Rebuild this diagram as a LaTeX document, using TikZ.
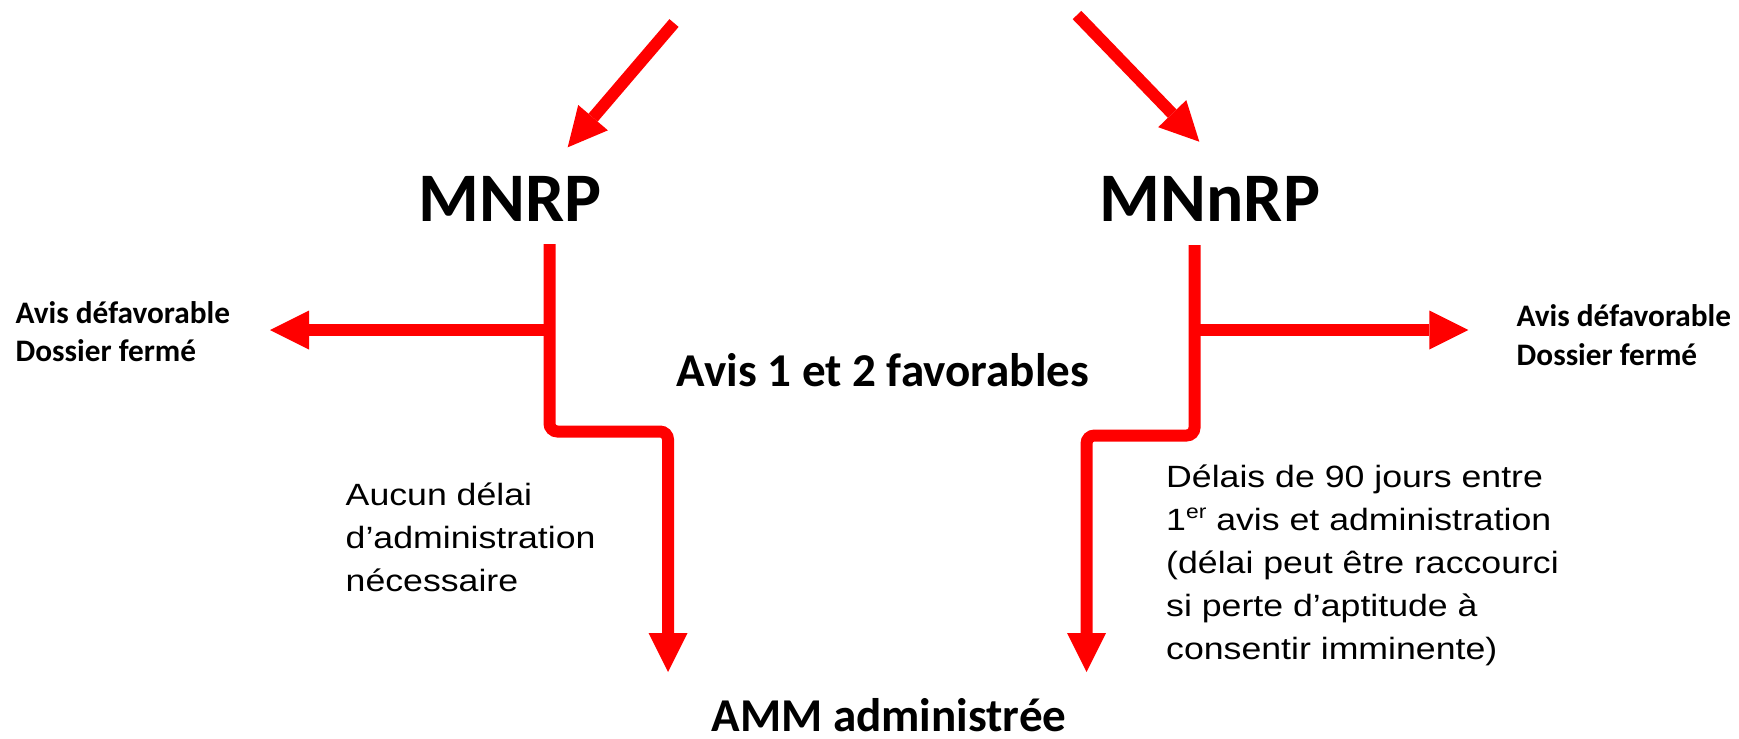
\documentclass[tikz,border=0pt]{standalone}
\usepackage{fontspec}
\usepackage{xcolor}
\usepackage{tikz}
\usetikzlibrary{arrows.meta}

\newfontfamily\calib{Carlito}
\newfontfamily\plain[FakeStretch=1.16]{Liberation Sans}
\newcommand{\ordsup}[1]{\raisebox{0.75ex}{\fontsize{5.6pt}{6pt}\selectfont #1}}

\begin{document}
\begin{tikzpicture}[
  title/.style={font=\calib\bfseries\fontsize{19.8pt}{24pt}\selectfont, inner sep=0pt, anchor=base},
  head/.style={font=\calib\bfseries\fontsize{13.4pt}{16pt}\selectfont, inner sep=0pt, anchor=base},
  verdict/.style={font=\calib\bfseries\fontsize{8.9pt}{10.9pt}\selectfont, inner sep=0pt,
                  align=left, anchor=base west},
  note/.style={font=\plain\fontsize{8.75pt}{12.23pt}\selectfont, inner sep=0pt,
               align=left, anchor=base west},
  arr/.style={-{Triangle[length=3.9mm, width=3.9mm, line width=0pt]}, line width=1.2mm, red},
  branch/.style={arr, rounded corners=0.8mm}
]
  \useasboundingbox (0,0) rectangle (17.39,-7.38);

  % Two procedures
  \node[title] (mnrp) at (5.10,-2.21) {MNRP};
  \node[title] (mnnrp) at (12.10,-2.21) {MNnRP};

  % Incoming arrows
  \coordinate (srcL) at (6.74,-0.23);
  \coordinate (inL) at (5.677,-1.473);
  \coordinate (srcR) at (10.77,-0.15);
  \coordinate (inR) at (11.993,-1.417);
  \draw[arr] (srcL) -- (inL);
  \draw[arr] (srcR) -- (inR);

  % Outcomes (multi-line nodes sit on their last line)
  \node[verdict] (refusL) at (0.15,-3.617) {Avis défavorable\\Dossier fermé};
  \node[verdict] (refusR) at (15.16,-3.65) {Avis défavorable\\Dossier fermé};
  \node[head] (fav) at (8.83,-3.86) {Avis 1 et 2 favorables};
  \node[head] (amm) at (8.89,-7.31) {AMM administrée};

  \node[note] (delaiL) at (3.45,-5.91) {Aucun délai\\d’administration\\nécessaire};
  \node[note] (delaiR) at (11.655,-6.593) {Délais de 90 jours entre\\
    1\ordsup{er} avis et administration\\(délai peut être raccourci\\
    si perte d’aptitude à\\consentir imminente)};

  % Left branch
  \coordinate (stemL) at (5.495,-2.44);
  \coordinate (outL) at (2.70,-3.30);
  \coordinate (endL) at (6.68,-6.72);
  \draw[arr] (stemL |- outL) -- (outL);
  \draw[branch] (stemL) -- ++(0,-1.875) -| (endL);

  % Right branch
  \coordinate (stemR) at (11.945,-2.45);
  \coordinate (outR) at (14.683,-3.30);
  \coordinate (endR) at (10.865,-6.72);
  \draw[arr] (stemR |- outR) -- (outR);
  \draw[branch] (stemR) -- ++(0,-1.905) -| (endR);
\end{tikzpicture}
\end{document}
